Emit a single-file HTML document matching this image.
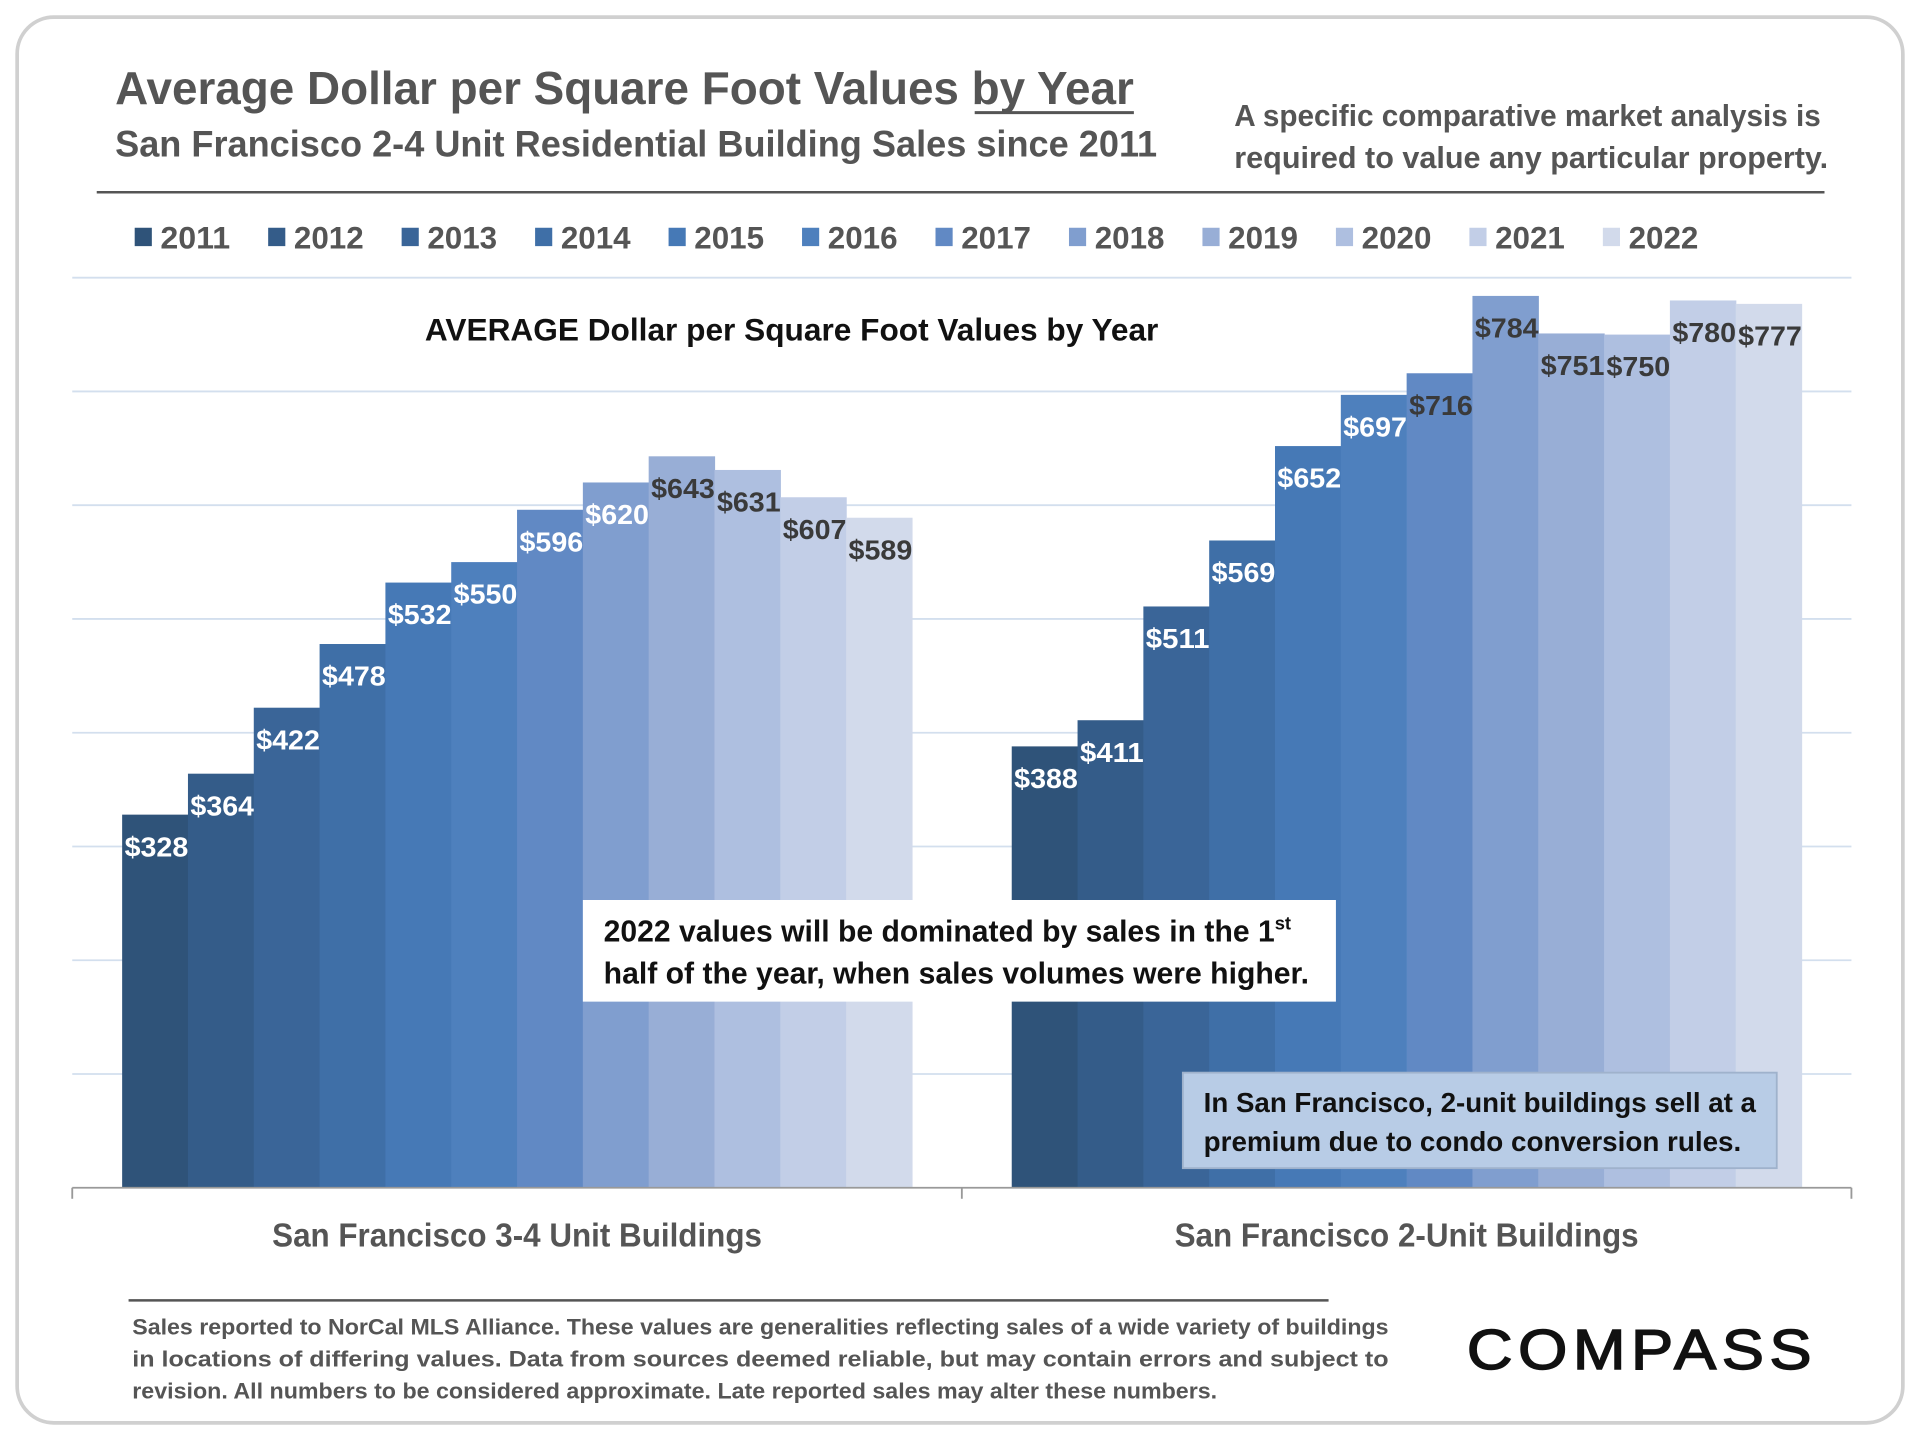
<!DOCTYPE html>
<html><head><meta charset="utf-8"><style>
html,body{margin:0;padding:0;background:#fff;}
svg{display:block;font-family:"Liberation Sans Narrow","Liberation Sans",sans-serif;}
</style></head><body>
<svg id="chart" width="1920" height="1440" viewBox="0 0 1568 1176" xmlns="http://www.w3.org/2000/svg">
<rect x="14" y="14" width="1540" height="1148" rx="30" fill="#fff" stroke="#d0d0d0" stroke-width="3"/>
<text x="94" y="85" font-size="38" font-weight="bold" fill="#555" textLength="832" lengthAdjust="spacingAndGlyphs">Average Dollar per Square Foot Values by Year</text>
<line x1="796" y1="92" x2="926" y2="92" stroke="#555" stroke-width="2.5"/>
<text x="94" y="128" font-size="30" font-weight="bold" fill="#555" textLength="851" lengthAdjust="spacingAndGlyphs">San Francisco 2-4 Unit Residential Building Sales since 2011</text>
<text font-size="25" font-weight="bold" fill="#555"><tspan x="1008" y="103" textLength="479" lengthAdjust="spacingAndGlyphs">A specific comparative market analysis is</tspan><tspan x="1008" y="137" textLength="485" lengthAdjust="spacingAndGlyphs">required to value any particular property.</tspan></text>
<line x1="79" y1="157" x2="1490" y2="157" stroke="#555" stroke-width="2"/>
<g id="legend"></g>
<g id="grid"></g>
<g id="bars"></g>
<text x="347" y="278" font-size="26" font-weight="bold" fill="#111" textLength="599" lengthAdjust="spacingAndGlyphs">AVERAGE Dollar per Square Foot Values by Year</text>
<g id="axis"></g>
<rect x="476" y="735" width="615" height="83" fill="#fff"/>
<text font-size="25" font-weight="bold" fill="#111"><tspan x="493" y="769" textLength="548" lengthAdjust="spacingAndGlyphs">2022 values will be dominated by sales in the 1</tspan><tspan font-size="15" dy="-10">st</tspan><tspan x="493" y="803" textLength="576" lengthAdjust="spacingAndGlyphs">half of the year, when sales volumes were higher.</tspan></text>
<rect x="966" y="876" width="485" height="78" fill="#b8cce6" stroke="#9fb2cc" stroke-width="1.5"/>
<text font-size="23" font-weight="bold" fill="#111"><tspan x="983" y="908" textLength="451" lengthAdjust="spacingAndGlyphs">In San Francisco, 2-unit buildings sell at a</tspan><tspan x="983" y="940" textLength="439" lengthAdjust="spacingAndGlyphs">premium due to condo conversion rules.</tspan></text>
<line x1="105" y1="1062" x2="1085" y2="1062" stroke="#555" stroke-width="2"/>
<text font-size="18" font-weight="bold" fill="#555"><tspan x="108" y="1090" textLength="1026" lengthAdjust="spacingAndGlyphs">Sales reported to NorCal MLS Alliance. These values are generalities reflecting sales of a wide variety of buildings</tspan><tspan x="108" y="1116" textLength="1026" lengthAdjust="spacingAndGlyphs">in locations of differing values. Data from sources deemed reliable, but may contain errors and subject to</tspan><tspan x="108" y="1142" textLength="886" lengthAdjust="spacingAndGlyphs">revision. All numbers to be considered approximate. Late reported sales may alter these numbers.</tspan></text>
<text x="1198" y="1118" font-family="Liberation Sans,sans-serif" font-size="46" fill="#111" stroke="#111" stroke-width="1.2" letter-spacing="4" textLength="286" lengthAdjust="spacingAndGlyphs">COMPASS</text>
</svg>
<script>
const years=["2011","2012","2013","2014","2015","2016","2017","2018","2019","2020","2021","2022"];
const categories=["San Francisco 3-4 Unit Buildings","San Francisco 2-Unit Buildings"];
const values34=[328,364,422,478,532,550,596,620,643,631,607,589];
const values2=[388,411,511,569,652,697,716,784,751,750,780,777];
const gridTicks=[0,100,200,300,400,500,600,700,800];
const colors=["#2f5379","#345c89","#3a6598","#3f6fa7","#4679b6","#4e80bd","#6189c4","#809ecf","#98aed6","#aebfe0","#c2cee7","#d2daeb"];
const labelDark=[[false,false,false,false,false,false,false,false,true,true,true,true],[false,false,false,false,false,false,true,true,true,true,true,true]];
const NS="http://www.w3.org/2000/svg";
const X0=59,X1=1512,BASE=970,PX=0.929;
function y(v){return BASE-v*PX;}
const catW=(X1-X0)/categories.length, groupW=645, barW=groupW/years.length;
function barX(c,i){return X0+c*catW+(catW-groupW)/2+i*barW;}
function mk(tag,attrs,parent){const e=document.createElementNS(NS,tag);for(const k in attrs)e.setAttribute(k,attrs[k]);parent.appendChild(e);return e;}
const grid=document.getElementById('grid');
gridTicks.forEach(t=>{if(t===0)return;const l=mk('line',{x1:X0,x2:X1,y1:y(t),y2:y(t),stroke:'#d3dfee','stroke-width':1.5},grid);

});
const bars=document.getElementById('bars');
[values34,values2].forEach((vals,c)=>{vals.forEach((v,i)=>{
 const r=mk('rect',{x:barX(c,i),y:y(v),width:barW+0.5,height:v*PX,fill:colors[i]},bars);
 
 
 const t=mk('text',{x:barX(c,i)+2,y:y(v)+34,'font-size':23,'font-weight':'bold',fill:labelDark[c][i]?'#3a3a3a':'#fff',textLength:52,lengthAdjust:'spacingAndGlyphs'},bars);
 t.textContent='$'+v;
 
 
});});
const axis=document.getElementById('axis');
mk('line',{x1:X0,x2:X1,y1:BASE,y2:BASE,stroke:'#999','stroke-width':1.5},axis);
[0,1,2].forEach(k=>{mk('line',{x1:X0+k*catW,x2:X0+k*catW,y1:BASE,y2:BASE+9,stroke:'#999','stroke-width':1.5},axis);});
const catLabelW=[400,379];
categories.forEach((c,k)=>{const t=mk('text',{x:X0+catW*(k+0.5)-catLabelW[k]/2,y:1018,'font-size':27,'font-weight':'bold',fill:'#555',textLength:catLabelW[k],lengthAdjust:'spacingAndGlyphs'},axis);
 t.textContent=c;
 
 });
const leg=document.getElementById('legend');
years.forEach((yr,i)=>{const g=mk('g',{},leg);
 
 
 mk('rect',{x:110+i*109,y:186,width:14,height:15,fill:colors[i]},g);
 const t=mk('text',{x:131+i*109,y:203,'font-size':26,'font-weight':'bold',fill:'#555',textLength:57,lengthAdjust:'spacingAndGlyphs'},g);t.textContent=yr;});
</script>
</body></html>
